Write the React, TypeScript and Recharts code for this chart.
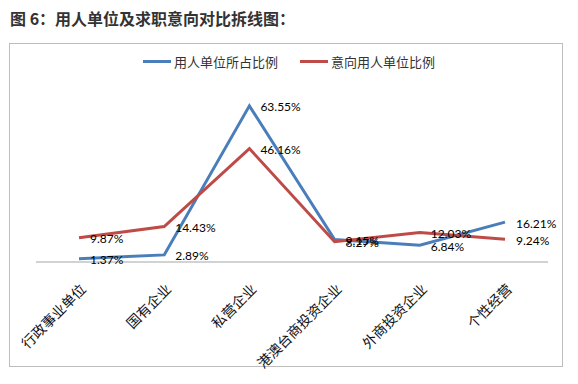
import { LabelList, Line, LineChart, XAxis, YAxis } from "recharts";

const categories = [
  "行政事业单位",
  "国有企业",
  "私营企业",
  "港澳台商投资企业",
  "外商投资企业",
  "个性经营",
];
const employerShare = [1.37, 2.89, 63.55, 9.15, 6.84, 16.21];
const intentShare = [9.87, 14.43, 46.16, 8.27, 12.03, 9.24];

const series = [
  { key: "employer", name: "用人单位所占比例", color: "#4A7EBB" },
  { key: "intent", name: "意向用人单位比例", color: "#BE4B48" },
];

const data = categories.map((name, i) => ({
  name,
  employer: employerShare[i],
  intent: intentShare[i],
}));

const Tick = (props: any) => {
  const { x, y, payload } = props;
  return (
    <g transform={`translate(${x + 8},${y + 20})`}>
      <text
        transform="rotate(-45)"
        textAnchor="end"
        fontSize={14}
        fontFamily="'Noto Sans CJK SC'"
        fill="#111"
      >
        {payload.value}
      </text>
    </g>
  );
};

const PctLabel = (props: any) => {
  const { x, y, value } = props;
  return (
    <text
      x={x + 11}
      y={y + 1}
      dominantBaseline="central"
      fontSize={12}
      fontFamily="Lato"
      fill="#000"
    >
      {value.toFixed(2)}%
    </text>
  );
};

const App = () => {
  return (
    <div
      style={{
        position: "absolute",
        left: 0,
        top: 0,
        width: 578,
        height: 384,
        background: "#fff",
      }}
    >
      <div
        style={{
          position: "absolute",
          left: 10,
          top: 6,
          fontSize: 16,
          fontWeight: "bold",
          color: "#333",
          fontFamily: "'Noto Sans CJK SC'",
          whiteSpace: "nowrap",
        }}
      >
        图 6：用人单位及求职意向对比拆线图：
      </div>
      <div
        style={{
          position: "absolute",
          left: 9,
          top: 43,
          width: 552,
          height: 322,
          border: "1.5px solid #bdbdbd",
        }}
      />
      <div
        style={{
          position: "absolute",
          left: 0,
          top: 52,
          width: 578,
          display: "flex",
          justifyContent: "center",
          gap: 22,
          fontSize: 13,
          color: "#333",
          fontFamily: "'Noto Sans CJK SC'",
        }}
      >
        {series.map((s) => (
          <div key={s.key} style={{ display: "flex", alignItems: "center" }}>
            <span
              style={{
                display: "inline-block",
                width: 28,
                height: 3,
                background: s.color,
                marginRight: 3,
              }}
            />
            {s.name}
          </div>
        ))}
      </div>
      <div style={{ position: "absolute", left: 0, top: 0 }}>
        <LineChart
          width={578}
          height={384}
          data={data}
          margin={{ top: 90, right: 30, bottom: 22, left: 36 }}
        >
          <XAxis
            dataKey="name"
            height={100}
            padding={{ left: 43, right: 43 }}
            axisLine={{ stroke: "#a6a6a6", strokeWidth: 1.2 }}
            tickLine={false}
            interval={0}
            tick={<Tick />}
          />
          <YAxis hide domain={[0, 70]} />
          {series.map((s) => (
            <Line
              key={s.key}
              dataKey={s.key}
              name={s.name}
              stroke={s.color}
              strokeWidth={3}
              dot={false}
              isAnimationActive={false}
            >
              <LabelList dataKey={s.key} content={<PctLabel />} />
            </Line>
          ))}
        </LineChart>
      </div>
    </div>
  );
};

export default App;
